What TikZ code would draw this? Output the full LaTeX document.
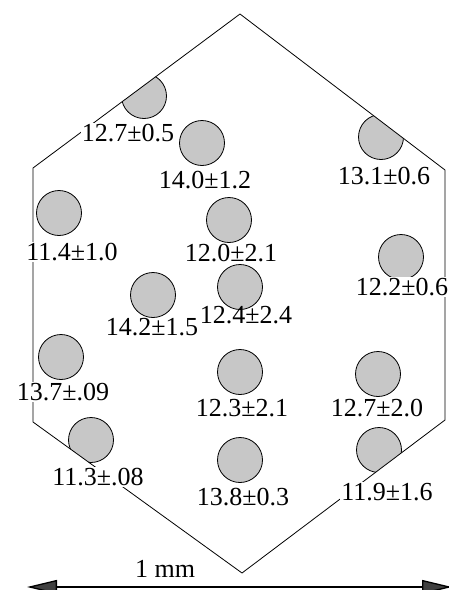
\documentclass[tikz,border=0pt]{standalone}
\usepackage{fontspec}
\setmainfont{Liberation Serif}
\usepackage{xcolor}
\usepackage{tikz}
\usetikzlibrary{arrows.meta}
\usetikzlibrary{calc}
\tikzstyle{fiber}=[circle,fill=black!22,draw,minimum size=45pt,inner sep=0pt,line width=0.8pt]
\tikzstyle{val}=[inner sep=1pt,text height=17.6pt,text depth=0pt,font=\rmfamily\fontsize{26}{30}\selectfont]
\tikzstyle{cutval}=[val,fill=white]
\tikzstyle{hexedge} = [draw,line width=0.8pt]
\tikzstyle{scalebar} = [draw,line width=1.3pt,{Triangle[length=30pt,width=14pt,fill=black!75]}-{Triangle[length=30pt,width=14pt,fill=black!75]}]

\begin{document}
\begin{tikzpicture}[x=1pt,y=-1pt]

 \useasboundingbox (0,0) rectangle (448,590);

 %hexagon corners
 \coordinate (T) at (240,14);
 \coordinate (UL) at (33,168);
 \coordinate (LL) at (33,422);
 \coordinate (B) at (242,573);
 \coordinate (LR) at (445,420);
 \coordinate (UR) at (445,170);

 %fibers, cut at the border
 \begin{scope}
  \clip (T) -- (UL) -- (LL) -- (B) -- (LR) -- (UR) -- cycle;
   \foreach \x/\y/\name in {144/96/c1, 202/143/c2, 381/137/c3, 59/213/c4, 229/220/c5, 401/257/c6, 153/295/c7,
                            240/287/c8, 61/357/c9, 240/372/c10, 378/374/c11, 91/440/c12, 240/460/c13, 379/450/c14}
          \node[fiber] (\name) at (\x,\y) {};
 \end{scope}
 \path[hexedge] (T) -- (UL) -- (LL) -- (B) -- (LR) -- (UR) -- cycle;

 %values on the border
   \foreach \x/\y/\name/\label in {128/133/l1/12.7±0.5, 72/252/l4/11.4±1.0, 402/287/l6/12.2±0.6,
                                   63/392/l9/13.7±.09, 98/477/l12/11.3±.08, 387/492/l14/11.9±1.6}
          \node[cutval] (\name) at (\x,\y) {\label};

 %values inside
   \foreach \x/\y/\name/\label in {205/180/l2/14.0±1.2, 384/176/l3/13.1±0.6, 231/253/l5/12.0±2.1,
                                   152/327/l7/14.2±1.5, 246/315/l8/12.4±2.4, 242/408/l10/12.3±2.1,
                                   377/408/l11/12.7±2.0, 243/497/l13/13.8±0.3}
          \node[val] (\name) at (\x,\y) {\label};

 %scale
 \coordinate (sl) at (27,587);
 \coordinate (sr) at (452,587);
 \path[scalebar] (sl) -- (sr);
 \node[val] (mm) at (165,569) {1 mm};

\end{tikzpicture}
\end{document}
